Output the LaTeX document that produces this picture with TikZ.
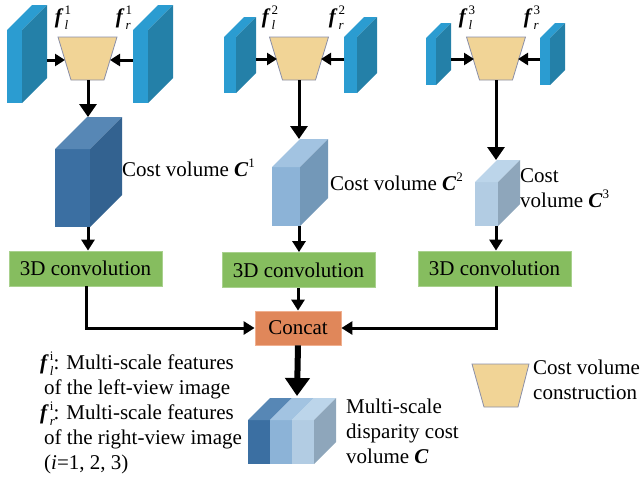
\documentclass[tikz,border=0pt]{standalone}
\usepackage{fontspec}
\setmainfont{Liberation Serif}
\usetikzlibrary{arrows.meta}

\definecolor{slabfront}{HTML}{2B9CD1}
\definecolor{slabside}{HTML}{2480A8}
\definecolor{trapfill}{HTML}{F1D496}
\definecolor{trapline}{HTML}{8A8FA8}
\definecolor{convfill}{HTML}{86BD5F}
\definecolor{convline}{HTML}{A9D18E}
\definecolor{catfill}{HTML}{E0875A}
\definecolor{catline}{HTML}{F0B090}
\definecolor{cAfront}{HTML}{3B6FA2}
\definecolor{cAtop}{HTML}{5787B5}
\definecolor{cAside}{HTML}{336290}
\definecolor{cBfront}{HTML}{8CB3D7}
\definecolor{cBtop}{HTML}{A2C3E1}
\definecolor{cBside}{HTML}{7398B8}
\definecolor{cCfront}{HTML}{B2CCE3}
\definecolor{cCtop}{HTML}{BCD5EA}
\definecolor{cCside}{HTML}{8EA6BB}

% thin feature slab: x y width height depth
\newcommand\featslab[5]{%
  \fill[slabfront] (#1,#2) rectangle ++(#3,#4);
  \fill[slabfront] (#1,#2) -- ++(#5,-#5) -- ++(#3,0) -- ++(-#5,#5) -- cycle;
  \fill[slabside] (#1+#3,#2) -- ++(#5,-#5) -- ++(0,#4) -- ++(-#5,#5) -- cycle;
}
% shaded block: x y width height depth front top side
\newcommand\volblock[8]{%
  \fill[#6] (#1,#2) rectangle ++(#3,#4);
  \fill[#7] (#1,#2) -- ++(#5,-#5) -- ++(#3,0) -- ++(-#5,#5) -- cycle;
  \fill[#8] (#1+#3,#2) -- ++(#5,-#5) -- ++(0,#4) -- ++(-#5,#5) -- cycle;
}
% upside-down trapezium: centre x, top y
\newcommand\costtrap[2]{%
  \filldraw[fill=trapfill,draw=trapline,line width=0.8pt]
    (#1-29.5,#2) -- (#1+29.5,#2) -- (#1+16.5,#2+43) -- (#1-16.5,#2+43) -- cycle;
}
% bold italic f with stacked sub/superscript
\newcommand\featsym[2]{\textbf{\textit{f}}\kern1pt%
  \rlap{\raisebox{-0.28em}{\fontsize{13}{13}\selectfont\itshape #1}}%
  \raisebox{0.42em}{\fontsize{13}{13}\selectfont #2}}
\newcommand\volsym[1]{\textbf{\textit{C}}\raisebox{0.42em}{\fontsize{13}{13}\selectfont #1}}

\tikzset{
  txt/.style={font=\rmfamily\fontsize{21}{25}\selectfont, inner sep=0pt, align=left},
  convbox/.style={draw=convline, fill=convfill, line width=0.8pt, minimum width=153pt,
    minimum height=35pt, inner sep=0pt, font=\rmfamily\fontsize{21}{25}\selectfont},
  catbox/.style={draw=catline, fill=catfill, line width=0.8pt, minimum width=86pt,
    minimum height=34pt, inner sep=0pt, font=\rmfamily\fontsize{21}{25}\selectfont},
  arr/.style={line width=3pt, -{Triangle[length=11pt,width=13pt]}},
  featarr/.style={line width=3pt, -{Triangle[length=10pt,width=12pt]}},
  downarr/.style={line width=3pt, -{Triangle[length=13pt,width=17pt]}},
  bigarr/.style={line width=6pt, -{Triangle[length=18pt,width=24pt]}},
}

\begin{document}
\begin{tikzpicture}[x=1pt,y=-1pt]
\useasboundingbox (0,0) rectangle (641,483);

% ---------- feature slabs ----------
\featslab{7}{30}{15}{73}{25}
\featslab{133}{30}{15}{73}{25}
\featslab{224}{37}{12}{56}{20}
\featslab{344}{37}{13}{56}{20}
\featslab{426}{38}{10}{47}{15}
\featslab{540}{38}{10}{47}{15}

\coordinate (l1) at (47,60);  \coordinate (r1) at (133,60);
\coordinate (l2) at (256,59); \coordinate (r2) at (344,59);
\coordinate (l3) at (451,59); \coordinate (r3) at (540,59);

% ---------- cost volume construction ----------
\costtrap{87.5}{37}
\costtrap{299}{37}
\costtrap{496}{37}
\coordinate (t1w) at (65,60);  \coordinate (t1e) at (110,60);  \coordinate (t1s) at (88,80);
\coordinate (t2w) at (277,59); \coordinate (t2e) at (321,59);  \coordinate (t2s) at (299,80);
\coordinate (t3w) at (474,59); \coordinate (t3e) at (518,59);  \coordinate (t3s) at (496,80);

\node[txt] (fl1) at (63,18) {\featsym{l}{1}};
\node[txt] (fr1) at (124,18) {\featsym{r}{1}};
\node[txt] (fl2) at (270,18) {\featsym{l}{2}};
\node[txt] (fr2) at (337,18) {\featsym{r}{2}};
\node[txt] (fl3) at (467,18) {\featsym{l}{3}};
\node[txt] (fr3) at (532,18) {\featsym{r}{3}};

\draw[featarr] (l1) -- (t1w);
\draw[featarr] (r1) -- (t1e);
\draw[featarr] (l2) -- (t2w);
\draw[featarr] (r2) -- (t2e);
\draw[featarr] (l3) -- (t3w);
\draw[featarr] (r3) -- (t3e);

% ---------- cost volumes ----------
\volblock{55}{149}{35}{78}{32}{cAfront}{cAtop}{cAside}
\volblock{272}{167}{28}{59}{28}{cBfront}{cBtop}{cBside}
\volblock{475}{182}{23}{44}{22}{cCfront}{cCtop}{cCside}
\coordinate (c1n) at (88,117);  \coordinate (c1s) at (88,227);
\coordinate (c2n) at (299,139); \coordinate (c2s) at (299,226);
\coordinate (c3n) at (496,160); \coordinate (c3s) at (496,226);

\draw[downarr] (t1s) -- (c1n);
\draw[downarr] (t2s) -- (c2n);
\draw[downarr] (t3s) -- (c3n);

\node[txt, anchor=west] (lc1) at (122,168) {Cost volume \volsym{1}};
\node[txt, anchor=west] (lc2) at (330,182) {Cost volume \volsym{2}};
\node[txt, anchor=west] (lc3) at (520,188) {Cost\\volume \volsym{3}};

% ---------- 3D convolutions ----------
\node[convbox] (cv1) at (85.5,268.5) {3D convolution};
\node[convbox] (cv2) at (298.5,270) {3D convolution};
\node[convbox] (cv3) at (494.5,268.5) {3D convolution};

\draw[arr] (c1s) -- (cv1.north -| c1s);
\draw[arr] (c2s) -- (cv2.north -| c2s);
\draw[arr] (c3s) -- (cv3.north -| c3s);

% ---------- concatenation ----------
\node[catbox] (cat) at (298,328) {Concat};
\draw[arr] (cv1.south -| 86,0) |- (cat.west);
\draw[arr] (cv2.south -| cat.north) -- (cat.north);
\draw[arr] (cv3.south -| 496,0) |- (cat.east);

% ---------- multi-scale volume ----------
\fill[cAfront] (248,420) rectangle (270,464);
\fill[cBfront] (270,420) rectangle (292,464);
\fill[cCfront] (292,420) rectangle (314,464);
\fill[cAtop] (248,420) -- (270,398) -- (292,398) -- (270,420) -- cycle;
\fill[cBtop] (270,420) -- (292,398) -- (314,398) -- (292,420) -- cycle;
\fill[cCtop] (292,420) -- (314,398) -- (336,398) -- (314,420) -- cycle;
\fill[cCside] (314,420) -- (336,398) -- (336,442) -- (314,464) -- cycle;
\coordinate (mv) at (297,396);
\draw[bigarr] (cat.south) -- (mv);

\node[txt, anchor=north west] (lmv) at (346,399) {Multi-scale\\disparity cost\\volume \textbf{\textit{C}}};

% ---------- legend ----------
\node[txt, anchor=north west] (leg) at (40,352) {%
  \featsym{l}{i}: Multi-scale features\\
  \hspace*{4pt}of the left-view image\\
  \featsym{r}{i}: Multi-scale features\\
  \hspace*{4pt}of the right-view image\\
  \hspace*{4pt}(\textit{i}=1, 2, 3)};

\filldraw[fill=trapfill,draw=trapline,line width=0.8pt]
  (472,364) -- (529,364) -- (518,407) -- (484,407) -- cycle;
\node[txt, anchor=north west] (ltrap) at (533,360) {Cost volume\\construction};
\end{tikzpicture}
\end{document}
